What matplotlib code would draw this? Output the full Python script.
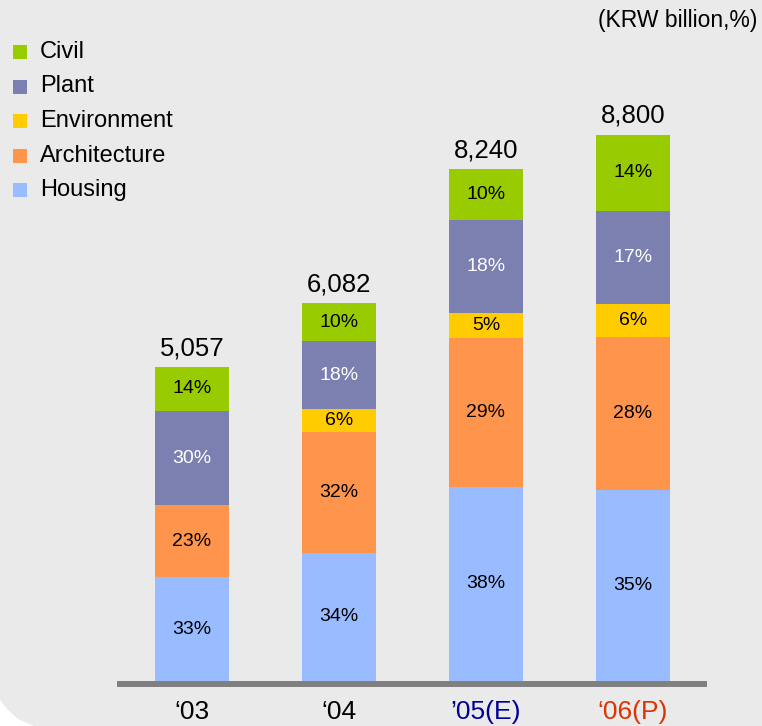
import matplotlib.pyplot as plt
from matplotlib.patches import Rectangle, Polygon

plt.rcParams['font.family'] = ['Liberation Sans', 'DejaVu Sans']

# data
years = ["‘03", "‘04", "’05(E)", "‘06(P)"]
year_colors = ["black", "black", "#000099", "#DD3300"]
totals = [5057, 6082, 8240, 8800]

segments = ["Housing", "Architecture", "Environment", "Plant", "Civil"]
housing = [33, 34, 38, 35]
architecture = [23, 32, 29, 28]
environment = [0, 6, 5, 6]
plant = [30, 18, 18, 17]
civil = [14, 10, 10, 14]
shares = [housing, architecture, environment, plant, civil]

colors = ["#99BBFF", "#FF944D", "#FFCC00", "#7B80B1", "#99CC00"]
text_colors = ["black", "black", "black", "white", "black"]

W, H = 762, 726
bg = "#EAEAEA"
fig = plt.figure(figsize=(W / 100, H / 100), dpi=100, facecolor=bg)

# white rounded corner bottom-left
fig.patches.append(Polygon([(0, 0), (0, 26 / H), (8 / W, 16 / H), (18 / W, 7 / H), (34 / W, 0)],
                           closed=True, transform=fig.transFigure, facecolor="white",
                           edgecolor="none", zorder=0))

# axes placed in pixels
k = 0.0621  # px per unit
ax_left, ax_right = 117, 707
ax_top, ax_bot = 100, 690
base = 681
ax = fig.add_axes([ax_left / W, (H - ax_bot) / H, (ax_right - ax_left) / W, (ax_bot - ax_top) / H])
ax.set_facecolor("none")
ax.set_ylim(-(ax_bot - base) / k, (base - ax_top) / k)
step = 147
ax.set_xlim(-(192 - ax_left) / step, 3 + (ax_right - 633) / step)
for s in ax.spines.values():
    s.set_visible(False)
ax.set_yticks([])

x = list(range(len(years)))
bottom = [0.0] * len(years)
for name, vals, c, tc in zip(segments, shares, colors, text_colors):
    h = [t * v / 100 for t, v in zip(totals, vals)]
    ax.bar(x, h, width=0.503, bottom=bottom, color=c, label=name, zorder=2)
    for i in x:
        if vals[i] > 0:
            ax.text(i, bottom[i] + h[i] / 2, f"{vals[i]}%", ha="center", va="center",
                    fontsize=14, color=tc, zorder=3)
    bottom = [b + hh for b, hh in zip(bottom, h)]

for i in x:
    ax.annotate(f"{totals[i]:,}", (i, bottom[i]), xytext=(0, 5), textcoords="offset points",
                ha="center", va="bottom", fontsize=18.5)

# axis line
ax.axhline(-3 / k, color="#808080", lw=4.3, zorder=1)

ax.set_xticks(x)
ax.set_xticklabels(years, fontsize=19)
for lab, c in zip(ax.get_xticklabels(), year_colors):
    lab.set_color(c)
ax.tick_params(axis="x", length=0, pad=7)

# legend (top to bottom: Civil .. Housing)
for j, idx in enumerate(range(len(segments) - 1, -1, -1)):
    yc = 52 + j * 34.5
    fig.patches.append(Rectangle((13 / W, (H - yc - 7) / H), 14 / W, 14 / H,
                                 transform=fig.transFigure, facecolor=colors[idx], edgecolor="none"))
    fig.text(40 / W, (H - yc) / H, segments[idx], ha="left", va="center", fontsize=17)

fig.text(757 / W, (H - 21) / H, "(KRW billion,%)", ha="right", va="center", fontsize=16.5)

fig.savefig("out.png", dpi=100, facecolor=bg)
